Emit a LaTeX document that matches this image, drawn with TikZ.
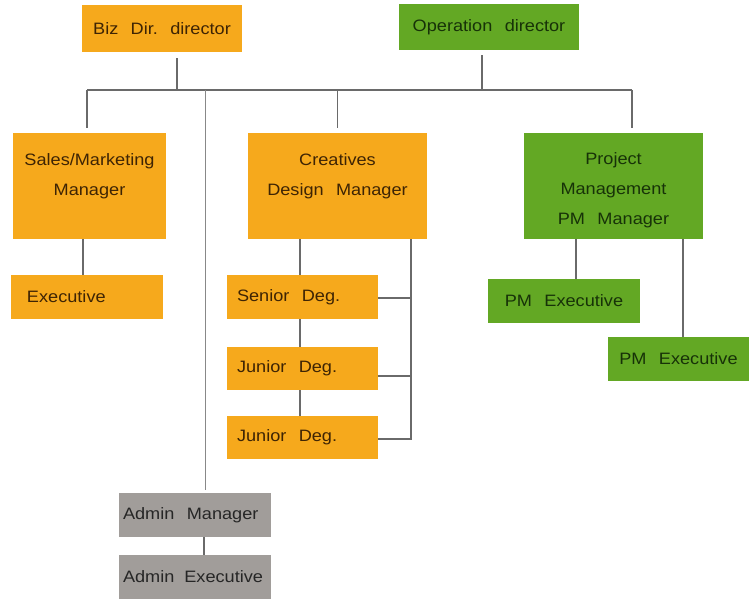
\documentclass[tikz,border=0pt]{standalone}
\usepackage{fontspec}
\setmainfont{Liberation Sans}[FakeStretch=1.1]
\usetikzlibrary{calc}
\definecolor{orng}{HTML}{F6A91C}
\definecolor{grn}{HTML}{63A824}
\definecolor{gry}{HTML}{A19D9A}
\definecolor{otxt}{HTML}{3E2404}
\definecolor{gtxt}{HTML}{173208}
\definecolor{ytxt}{HTML}{262626}
\definecolor{lcol}{HTML}{6A6A6A}
\tikzset{
  box/.style={rectangle, inner sep=0pt, font=\fontsize{16.5}{30}\selectfont, align=center},
  obox/.style={box, fill=orng, text=otxt},
  gbox/.style={box, fill=grn, text=gtxt},
  ybox/.style={box, fill=gry, text=ytxt},
  conn/.style={draw=lcol, line width=1.6pt}
}
\newcommand{\gap}{\hspace{0.75em}}
\begin{document}
\begin{tikzpicture}[x=1pt,y=-1pt]
\useasboundingbox (0,0) rectangle (749,599);
% top
\node[obox, minimum width=160, minimum height=47] (biz) at (162,28.5) {Biz\gap Dir.\gap director};
\node[gbox, minimum width=180, minimum height=46] (op) at (489,27) {Operation\gap director};
% managers
\node[obox, minimum width=153, minimum height=106, anchor=north] (sales) at (89.5,133) {};
\node[obox, anchor=north] (salest) at (89.5,153) {Sales/Marketing\\Manager};
\node[obox, minimum width=179, minimum height=106, anchor=north] (creat) at (337.5,133) {};
\node[obox, anchor=north] (creatt) at (337.5,153) {Creatives\\Design\gap Manager};
\node[gbox, minimum width=179, minimum height=106, anchor=north] (pm) at (613.5,133) {};
\node[gbox, anchor=north] (pmt) at (613.5,152) {Project\\Management\\PM\gap Manager};
% lower
\node[obox, minimum width=152, minimum height=44, text width=120, inner xsep=16pt, align=left] (exec) at (87,297) {Executive};
\node[obox, minimum width=151, minimum height=44, text width=131, inner xsep=10pt, align=left] (sen) at (302.5,297) {Senior\gap Deg.};
\node[obox, minimum width=151, minimum height=43, text width=131, inner xsep=10pt, align=left] (jun1) at (302.5,368.5) {Junior\gap Deg.};
\node[obox, minimum width=151, minimum height=43, text width=131, inner xsep=10pt, align=left] (jun2) at (302.5,437.5) {Junior\gap Deg.};
\node[gbox, minimum width=152, minimum height=44] (pme1) at (564,301) {PM\gap Executive};
\node[gbox, minimum width=141, minimum height=44] (pme2) at (678.5,359) {PM\gap Executive};
\node[ybox, minimum width=152, minimum height=44, text width=144, inner xsep=4pt, align=left] (adm) at (195,515) {\mbox{Admin\gap Manager}};
\node[ybox, minimum width=152, minimum height=44, text width=144, inner xsep=4pt, align=left] (adme) at (195,577) {\mbox{Admin\hspace{0.6em}Executive}};
% connectors
\coordinate (hl) at (87,90);
\coordinate (hr) at (632,90);
\coordinate (br) at (411,0);
\draw[conn] (hl) -- (hr);
\draw[conn] ([xshift=15pt,yshift=-6pt]biz.south) -- ([xshift=15pt]biz.south |- hl);
\draw[conn] ([xshift=-7pt,yshift=-5pt]op.south) -- ([xshift=-7pt]op.south |- hl);
\draw[conn] (hl) -- ([xshift=-2.5pt,yshift=5pt]sales.north);
\draw[conn] (creat.north |- hl) -- ([yshift=5pt]creat.north);
\draw[conn] (hr) -- ([xshift=18.5pt,yshift=5pt]pm.north);
\draw[conn, draw=lcol!80] ([xshift=10.5pt]adm.north |- hl) -- ([xshift=10.5pt,yshift=3pt]adm.north);
\draw[conn] ([xshift=9pt]adm.south) -- ([xshift=9pt]adme.north);
\draw[conn] ([xshift=-6.5pt]sales.south) -- ([xshift=-4pt]exec.north);
\draw[conn] ([xshift=-37.5pt]creat.south) -- ([xshift=-2.5pt]sen.north);
\draw[conn] ([xshift=-2.5pt]sen.south) -- ([xshift=-2.5pt]jun1.north);
\draw[conn] ([xshift=-2.5pt]jun1.south) -- ([xshift=-2.5pt]jun2.north);
\draw[conn, line width=1.3pt] (creat.south -| br) -- ([yshift=-1.5pt]jun2.east -| br) -- ([yshift=-1.5pt]jun2.east);
\draw[conn, line width=1.3pt] ([yshift=-1pt]sen.east) -- ([yshift=-1pt]sen.east -| br);
\draw[conn, line width=1.3pt] ([yshift=-7.5pt]jun1.east) -- ([yshift=-7.5pt]jun1.east -| br);
\draw[conn] ([xshift=-37.5pt]pm.south) -- ([xshift=12pt]pme1.north);
\draw[conn] ([xshift=69.5pt]pm.south) -- ([xshift=4.5pt]pme2.north);
\end{tikzpicture}
\end{document}
